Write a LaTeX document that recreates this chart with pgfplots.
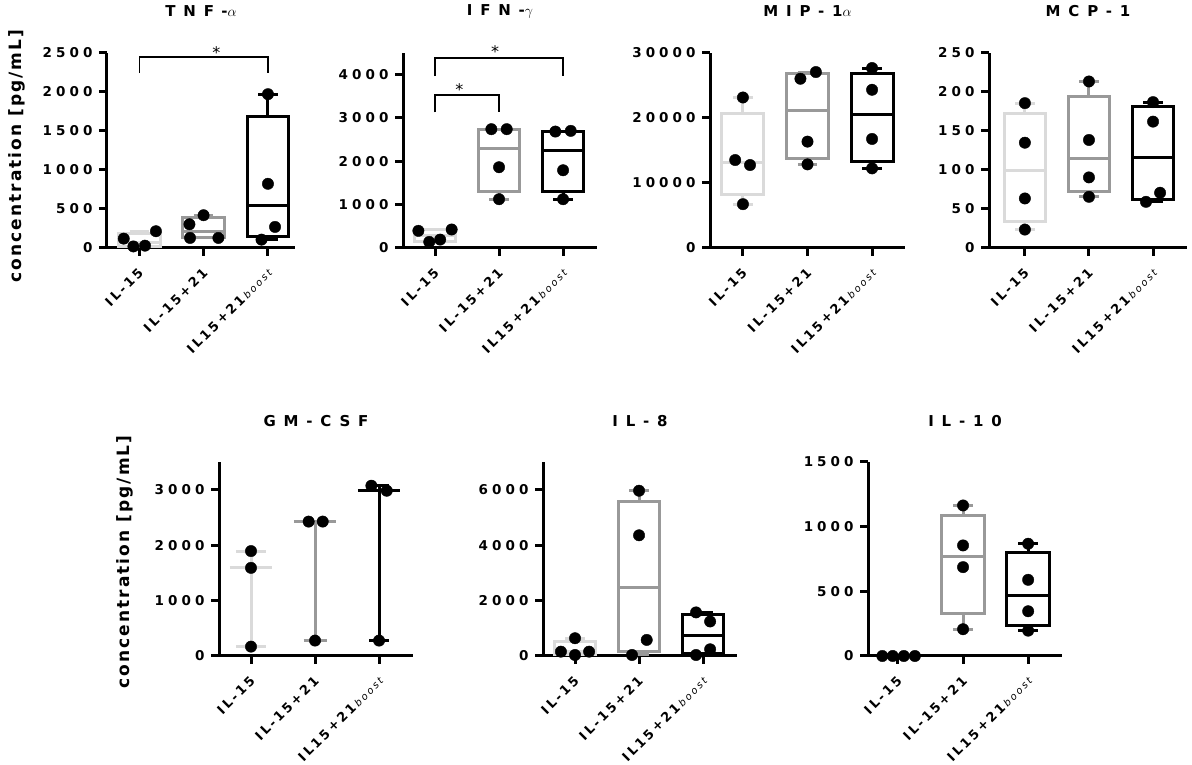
\documentclass[border=0pt]{standalone}
\usepackage{fontspec}
\usepackage{pgfplots}
\pgfplotsset{compat=1.18}
\setmainfont{DejaVu Sans}
\newfontfamily\tickf[LetterSpace=20]{DejaVu Sans}
\newfontfamily\ytickf[LetterSpace=30]{DejaVu Sans}
\newfontfamily\titlef[LetterSpace=52]{DejaVu Sans}
\newfontfamily\labf[LetterSpace=12]{DejaVu Sans}
\newcommand\tickfont{\fontsize{13}{14}\selectfont\tickf\bfseries}
\newcommand\ytickfont{\fontsize{13.5}{14}\selectfont\ytickf\bfseries}
\newcommand\titlefont{\fontsize{15}{16}\selectfont\titlef\bfseries}
\newcommand\labfont{\fontsize{17}{18}\selectfont\labf\bfseries}
\newcommand\boostlab{IL15+21\,{\fontsize{10}{10}\selectfont\mdseries\itshape boost}}
\definecolor{lg}{HTML}{DADADA}
\definecolor{mg}{HTML}{999999}
% box: colour, left x, right x, lower quartile, median, upper quartile
\newcommand\bbox[6]{%
 \addplot[#1, line width=3pt] coordinates {(#2,#4) (#3,#4) (#3,#6) (#2,#6) (#2,#4) (#3,#4)};
 \addplot[#1, line width=3pt] coordinates {(#2,#5) (#3,#5)};}
% whisker: colour, position, cap left, cap right, from, to
\newcommand\bwh[6]{%
 \addplot[#1, line width=3pt] coordinates {(#2,#5) (#2,#6)};
 \addplot[#1, line width=3pt] coordinates {(#3,#6) (#4,#6)};}
\newcommand\pts[1]{\addplot[only marks, mark=*, mark size=5.7pt, mark options={draw=black, fill=black}] coordinates {#1};}
\newcommand\sigstar[1]{\node[font=\fontsize{16}{16}\selectfont] at (#1) {*};}
\pgfplotsset{
  cyto/.style={
    scale only axis, height=195pt,
    axis lines=left, axis line style={-, line width=3pt},
    tick style={line width=3pt, black}, major tick length=8pt, tick align=outside,
    xtick={0,1,2}, xticklabels={IL-15, IL-15+21, \boostlab},
    x tick label style={xshift=4pt, yshift=-12pt, rotate=45, anchor=east, font=\tickfont},
    y tick label style={xshift=-3pt, font=\ytickfont},
    ymin=0, clip=false, scaled y ticks=false,
    every axis title shift=0pt,
    title style={at={(axis description cs:0.5,1.213)}, anchor=center, font=\titlefont},
    ylabel style={font=\labfont, at={(axis description cs:-0.48,0.472)}, anchor=center},
  }
}
\begin{document}
\begin{tikzpicture}
\useasboundingbox (0,0) rectangle (1192pt,765pt);
% TNF-alpha
\begin{axis}[cyto, at={(107pt,517pt)}, anchor=south west, width=188pt,
  xmin=-0.5, xmax=2.42, ymax=2500, ytick={0,500,1000,1500,2000,2500},
  yticklabels={0,500,1000,1500,2000,2500},
  title={TNF-$\alpha$}, ylabel={concentration [pg/mL]}]
\bbox{lg}{-0.325}{0.325}{22}{72}{190}
\bwh{lg}{0}{-0.15}{0.15}{190}{210}
\bwh{lg}{0}{-0.15}{0.15}{22}{20}
\bbox{mg}{0.675}{1.325}{129}{216}{391}
\bwh{mg}{1}{0.85}{1.15}{391}{420}
\bbox{black}{1.675}{2.325}{148}{546}{1685}
\bwh{black}{2}{1.85}{2.15}{1685}{1972}
\bwh{black}{2}{1.85}{2.15}{148}{107}
\pts{(-0.24,120) (-0.09,20) (0.09,30) (0.26,215)}
\pts{(0.78,304) (1.0,420) (0.79,129) (1.23,129)}
\pts{(2,1972) (2,823) (2.11,270) (1.9,107)}
\addplot[black, line width=1.3pt] coordinates {(0,2243) (0,2448) (2,2448) (2,2243)};
\sigstar{axis cs:1.2,2500}
\end{axis}
% IFN-gamma
\begin{axis}[cyto, at={(403pt,517pt)}, anchor=south west, width=194pt,
  xmin=-0.5, xmax=2.53, ymax=4500, ytick={0,1000,2000,3000,4000},
  yticklabels={0,1000,2000,3000,4000},
  title={IFN-$\gamma$}]
\bbox{lg}{-0.325}{0.325}{153}{295}{419}
\bbox{mg}{0.675}{1.325}{1310}{2303}{2742}
\bwh{mg}{1}{0.85}{1.15}{1310}{1126}
\bbox{black}{1.675}{2.325}{1293}{2240}{2699}
\bwh{black}{2}{1.85}{2.15}{1293}{1126}
\pts{(-0.26,396) (-0.09,140) (0.08,194) (0.26,427)}
\pts{(0.88,2742) (1.12,2742) (1,1864) (1,1126)}
\pts{(1.88,2687) (2.12,2703) (2,1794) (2,1126)}
\addplot[black, line width=1.3pt] coordinates {(0,3130) (0,3534) (1,3534) (1,3130)};
\addplot[black, line width=1.3pt] coordinates {(0,3969) (0,4388) (2,4388) (2,3969)};
\sigstar{axis cs:0.38,3666}
\sigstar{axis cs:0.94,4536}
\end{axis}
% MIP-1alpha
\begin{axis}[cyto, at={(710pt,517pt)}, anchor=south west, width=195pt,
  xmin=-0.51, xmax=2.51, ymax=30000, ytick={0,10000,20000,30000},
  yticklabels={0,10000,20000,30000},
  title={MIP-1$\alpha$}]
\bbox{lg}{-0.325}{0.325}{8246}{13148}{20751}
\bwh{lg}{0}{-0.15}{0.15}{20751}{23157}
\bwh{lg}{0}{-0.15}{0.15}{8246}{6741}
\bbox{mg}{0.675}{1.325}{13740}{21201}{26810}
\bwh{mg}{1}{0.85}{1.15}{26810}{27067}
\bwh{mg}{1}{0.85}{1.15}{13740}{12865}
\bbox{black}{1.675}{2.325}{13379}{20558}{26850}
\bwh{black}{2}{1.85}{2.15}{26850}{27686}
\bwh{black}{2}{1.85}{2.15}{13379}{12247}
\pts{(0,23157) (-0.12,13534) (0.11,12762) (0,6741)}
\pts{(0.89,26038) (1.13,27067) (1,16364) (1,12865)}
\pts{(2,27686) (2,24340) (2,16776) (2,12247)}
\end{axis}
% MCP-1
\begin{axis}[cyto, at={(989pt,517pt)}, anchor=south west, width=198pt,
  xmin=-0.56, xmax=2.53, ymax=250, ytick={0,50,100,150,200,250},
  yticklabels={0,50,100,150,200,250},
  title={MCP-1}]
\bbox{lg}{-0.325}{0.325}{33.6}{99}{173}
\bwh{lg}{0}{-0.15}{0.15}{173}{185.7}
\bwh{lg}{0}{-0.15}{0.15}{33.6}{23.6}
\bbox{mg}{0.675}{1.325}{71.8}{114.5}{194.8}
\bwh{mg}{1}{0.85}{1.15}{194.8}{213.5}
\bwh{mg}{1}{0.85}{1.15}{71.8}{65.6}
\bbox{black}{1.675}{2.325}{62}{116.4}{180.8}
\bwh{black}{2}{1.85}{2.15}{180.8}{187}
\bwh{black}{2}{1.85}{2.15}{62}{59.2}
\pts{(0,185.7) (0,135) (0,63.5) (0,23.6)}
\pts{(1,213.5) (1,138.5) (1,90.5) (1,65.6)}
\pts{(2,187) (2,162) (2.11,70.8) (1.89,59.2)}
\end{axis}
% GM-CSF
\begin{axis}[cyto, at={(219pt,109pt)}, anchor=south west, width=194pt, height=194pt,
  xmin=-0.5, xmax=2.53, ymax=3500, ytick={0,1000,2000,3000},
  yticklabels={0,1000,2000,3000},
  title={GM-CSF}, ylabel={concentration [pg/mL]},
  ylabel style={at={(axis description cs:-0.485,0.485)}}]
\addplot[lg, line width=3pt] coordinates {(0,169) (0,1893)};
\addplot[lg, line width=3pt] coordinates {(-0.33,1603) (0.33,1603)};
\addplot[lg, line width=3pt] coordinates {(-0.23,1893) (0.23,1893)};
\addplot[lg, line width=3pt] coordinates {(-0.23,169) (0.23,169)};
\addplot[mg, line width=3pt] coordinates {(1,278) (1,2425)};
\addplot[mg, line width=3pt] coordinates {(0.67,2425) (1.33,2425)};
\addplot[mg, line width=3pt] coordinates {(0.82,278) (1.18,278)};
\addplot[black, line width=3pt] coordinates {(2,278) (2,3072)};
\addplot[black, line width=3pt] coordinates {(1.67,2990) (2.33,2990)};
\addplot[black, line width=3pt] coordinates {(1.85,3072) (2.15,3072)};
\addplot[black, line width=3pt] coordinates {(1.85,278) (2.15,278)};
\pts{(0,1893) (0,1590) (0,169)}
\pts{(0.9,2425) (1.12,2425) (1,278)}
\pts{(1.88,3072) (2.12,2982) (2,278)}
\end{axis}
% IL-8
\begin{axis}[cyto, at={(543pt,109pt)}, anchor=south west, width=194pt, height=194pt,
  xmin=-0.5, xmax=2.53, ymax=7000, ytick={0,2000,4000,6000},
  yticklabels={0,2000,4000,6000},
  title={IL-8}]
\bbox{lg}{-0.325}{0.325}{66}{157}{520}
\bwh{lg}{0}{-0.15}{0.15}{520}{641}
\bbox{mg}{0.675}{1.325}{172}{2468}{5562}
\bwh{mg}{1}{0.85}{1.15}{5562}{5964}
\bwh{mg}{1}{0.85}{1.15}{172}{36}
\bbox{black}{1.675}{2.325}{87}{744}{1491}
\bwh{black}{2}{1.85}{2.15}{1491}{1573}
\pts{(-0.22,157) (0,641) (0,36) (0.22,157)}
\pts{(1,5964) (1,4355) (1.12,580) (0.89,36)}
\pts{(1.89,1573) (2.11,1246) (2.11,242) (1.89,36)}
\end{axis}
% IL-10
\begin{axis}[cyto, at={(868pt,109pt)}, anchor=south west, width=194pt, height=194pt,
  xmin=-0.46, xmax=2.52, ymax=1500, ytick={0,500,1000,1500},
  yticklabels={0,500,1000,1500},
  title={IL-10}]
\bbox{mg}{0.675}{1.325}{327}{771}{1087}
\bwh{mg}{1}{0.85}{1.15}{1087}{1164}
\bwh{mg}{1}{0.85}{1.15}{327}{207}
\bbox{black}{1.675}{2.325}{233}{468}{798}
\bwh{black}{2}{1.85}{2.15}{798}{868}
\bwh{black}{2}{1.85}{2.15}{233}{196}
\pts{(-0.24,0) (-0.08,0) (0.09,0) (0.26,0)}
\pts{(1,1164) (1,855) (1,687) (1,207)}
\pts{(2,868) (2,589) (2,346) (2,196)}
\end{axis}
\end{tikzpicture}
\end{document}
